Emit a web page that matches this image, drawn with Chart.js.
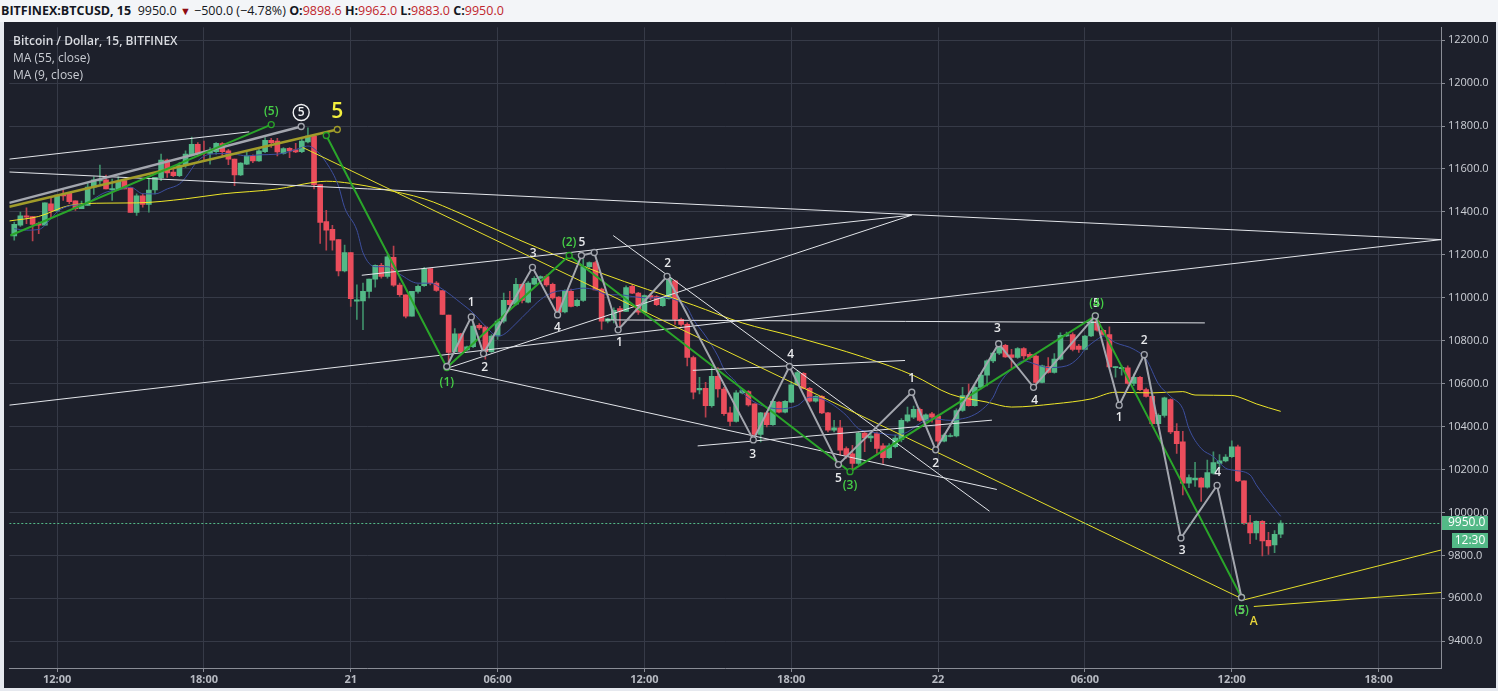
<!DOCTYPE html>
<html>
<head>
<meta charset="utf-8">
<script src="https://cdn.jsdelivr.net/npm/chart.js@4.4.1/dist/chart.umd.min.js"></script>
<style>
  html, body { margin: 0; padding: 0; width: 1498px; height: 691px; overflow: hidden; background: #e6e9ef; font-family: "Open Sans", "Noto Sans", sans-serif; }
  #hdr { position: absolute; left: 0; top: 0; width: 1498px; height: 22px; background: #f3f5f8; color: #131722; font-size: 12.5px; line-height: 22px; white-space: nowrap; padding-left: 1px; }
  #hdr b { font-weight: 700; }
  #hdr .r { color: #c0262d; }
  #hdr .tri { color: #8e0b12; font-size: 11px; }
  #wrap { position: absolute; left: 4px; top: 22px; width: 1492px; height: 666px; background: #1d202b; }
  #legend { position: absolute; left: 13px; top: 32px; color: #c9ccd3; font-size: 12px; line-height: 17px; pointer-events: none; }
  #legend .t { color: #d9dbe0; font-weight: 600; }
</style>
</head>
<body>
<div id="hdr"></div>
<div id="wrap"><canvas id="c" width="1492" height="666"></canvas></div>
<div id="legend">
  <div class="t">Bitcoin / Dollar, 15, BITFINEX</div>
  <div>MA (55, close)</div>
  <div>MA (9, close)</div>
</div>
<script>
// BTCUSD 15m candles, bar 1 = 20th 10:15 ... bar 208 = 22nd 14:00

const candleOpen = [
  11288, 11338, 11382, 11378, 11347, 11338, 11438, 11405, 11481, 11487,
  11452, 11415, 11430, 11515, 11544, 11549, 11504, 11504, 11546, 11512,
  11398, 11475, 11435, 11502, 11558, 11641, 11586, 11569, 11615, 11666,
  11715, 11678, 11672, 11681, 11718, 11684, 11646, 11572, 11623, 11661,
  11638, 11681, 11733, 11730, 11673, 11696, 11689, 11681, 11726, 11753,
  11527, 11355, 11319, 11271, 11125, 11211, 10984, 10986, 11030, 11087,
  11151, 11099, 11188, 11059, 11014, 10914, 11030, 11056, 11136, 11068,
  11034, 10920, 10749, 10832, 10757, 10772, 10872, 10863, 10749, 10822,
  10891, 10988, 10970, 11063, 10980, 11063, 11091, 11099, 11063, 11003,
  10934, 11030, 10963, 10988, 11145, 11164, 11040, 10891, 10899, 10950,
  10937, 11053, 11022, 10933, 11010, 11006, 10963, 10996, 11079, 10900,
  10876, 10722, 10571, 10578, 10498, 10634, 10575, 10464, 10424, 10557,
  10563, 10506, 10363, 10464, 10409, 10514, 10467, 10514, 10594, 10648,
  10578, 10518, 10541, 10464, 10383, 10394, 10298, 10273, 10229, 10370,
  10347, 10367, 10310, 10255, 10306, 10340, 10426, 10444, 10480, 10429,
  10460, 10449, 10332, 10354, 10356, 10475, 10545, 10498, 10583, 10640,
  10706, 10742, 10779, 10734, 10722, 10763, 10737, 10729, 10606, 10680,
  10652, 10714, 10822, 10829, 10775, 10760, 10822, 10891, 10849, 10829,
  10675, 10670, 10674, 10601, 10629, 10572, 10541, 10414, 10452, 10526,
  10378, 10329, 10136, 10152, 10160, 10118, 10183, 10229, 10240, 10260,
  10306, 10147, 9952, 9905, 9959, 9870, 9849, 9898.6
];
const candleHigh = [
  11353, 11399, 11419, 11378, 11353, 11442, 11468, 11479, 11502, 11487,
  11452, 11450, 11533, 11564, 11618, 11572, 11553, 11564, 11553, 11512,
  11484, 11484, 11553, 11561, 11669, 11646, 11599, 11630, 11684, 11749,
  11723, 11730, 11700, 11723, 11723, 11692, 11646, 11630, 11681, 11666,
  11692, 11746, 11743, 11743, 11700, 11700, 11720, 11738, 11792, 11753,
  11527, 11407, 11338, 11271, 11245, 11211, 11060, 11068, 11087, 11153,
  11160, 11199, 11241, 11068, 11014, 11030, 11060, 11142, 11137, 11076,
  11034, 10920, 10856, 10834, 10775, 10883, 10880, 10868, 10829, 10899,
  11022, 11030, 11091, 11065, 11076, 11099, 11102, 11107, 11068, 11006,
  11037, 11040, 10994, 11180, 11168, 11170, 11045, 10906, 10953, 10960,
  11056, 11060, 11025, 11014, 11022, 11010, 11003, 11102, 11083, 10906,
  10883, 10729, 10629, 10606, 10675, 10675, 10583, 10491, 10568, 10575,
  10568, 10506, 10467, 10471, 10521, 10517, 10521, 10610, 10660, 10652,
  10583, 10545, 10545, 10467, 10429, 10429, 10306, 10313, 10375, 10375,
  10375, 10375, 10321, 10321, 10360, 10437, 10491, 10495, 10486, 10460,
  10467, 10455, 10367, 10367, 10483, 10583, 10598, 10591, 10645, 10711,
  10745, 10791, 10783, 10760, 10768, 10768, 10745, 10734, 10686, 10721,
  10740, 10837, 10840, 10837, 10783, 10825, 10899, 10914, 10852, 10865,
  10680, 10683, 10683, 10645, 10634, 10580, 10545, 10460, 10537, 10529,
  10414, 10378, 10175, 10233, 10163, 10244, 10283, 10270, 10270, 10334,
  10314, 10147, 9987, 9961, 9962, 9908, 9916, 9962
];
const candleLow = [
  11268, 11333, 11345, 11265, 11299, 11338, 11368, 11405, 11453, 11438,
  11407, 11415, 11430, 11481, 11530, 11507, 11453, 11504, 11507, 11398,
  11384, 11422, 11399, 11484, 11545, 11561, 11564, 11564, 11607, 11661,
  11661, 11638, 11623, 11669, 11661, 11620, 11522, 11569, 11620, 11630,
  11635, 11676, 11700, 11661, 11669, 11653, 11676, 11676, 11722, 11507,
  11253, 11222, 11222, 11102, 11121, 10960, 10899, 10852, 10999, 11050,
  11091, 11091, 11053, 11006, 10906, 10914, 11022, 11053, 11060, 11030,
  10922, 10690, 10745, 10745, 10752, 10768, 10852, 10714, 10745, 10806,
  10883, 10953, 10966, 10976, 10976, 11060, 11088, 11053, 10994, 10922,
  10929, 10957, 10960, 10983, 11140, 11037, 10853, 10883, 10883, 10849,
  10937, 11019, 10922, 10929, 10991, 10963, 10960, 10994, 10876, 10868,
  10683, 10529, 10552, 10444, 10491, 10537, 10452, 10403, 10421, 10552,
  10495, 10333, 10329, 10398, 10406, 10464, 10464, 10511, 10591, 10575,
  10514, 10514, 10460, 10375, 10375, 10267, 10252, 10195, 10221, 10283,
  10330, 10275, 10229, 10252, 10301, 10329, 10421, 10437, 10424, 10421,
  10421, 10290, 10329, 10352, 10352, 10471, 10495, 10495, 10575, 10590,
  10698, 10735, 10722, 10675, 10717, 10714, 10714, 10583, 10603, 10649,
  10649, 10711, 10819, 10752, 10745, 10757, 10819, 10845, 10825, 10675,
  10630, 10640, 10598, 10591, 10567, 10537, 10406, 10406, 10444, 10367,
  10275, 10082, 10116, 10121, 10052, 10113, 10178, 10206, 10236, 10255,
  10144, 9944, 9855, 9875, 9798, 9805, 9813, 9883
];
const candleClose = [
  11342, 11382, 11376, 11342, 11338, 11442, 11405, 11479, 11475, 11448,
  11415, 11433, 11516, 11549, 11549, 11507, 11506, 11542, 11507, 11398,
  11475, 11435, 11502, 11561, 11641, 11582, 11569, 11618, 11669, 11715,
  11672, 11674, 11684, 11720, 11681, 11646, 11572, 11627, 11661, 11638,
  11684, 11733, 11723, 11679, 11695, 11684, 11679, 11730, 11753, 11527,
  11351, 11315, 11268, 11125, 11211, 10996, 10990, 11030, 11087, 11151,
  11099, 11191, 11059, 11014, 10914, 11030, 11053, 11136, 11068, 11034,
  10922, 10745, 10832, 10749, 10772, 10868, 10860, 10749, 10822, 10891,
  10988, 10968, 11063, 10988, 11068, 11091, 11099, 11060, 10999, 10933,
  11030, 10960, 10988, 11145, 11164, 11037, 10891, 10902, 10942, 10937,
  11048, 11022, 10933, 11010, 10999, 10968, 10999, 11091, 10899, 10876,
  10722, 10560, 10578, 10498, 10634, 10575, 10460, 10424, 10557, 10568,
  10501, 10363, 10464, 10409, 10518, 10467, 10518, 10594, 10652, 10578,
  10518, 10541, 10464, 10383, 10394, 10290, 10267, 10229, 10370, 10347,
  10356, 10298, 10255, 10310, 10347, 10429, 10455, 10480, 10429, 10455,
  10444, 10332, 10360, 10358, 10475, 10545, 10498, 10583, 10640, 10706,
  10742, 10779, 10725, 10722, 10763, 10729, 10722, 10606, 10683, 10652,
  10714, 10825, 10829, 10760, 10760, 10822, 10891, 10849, 10829, 10678,
  10678, 10676, 10601, 10629, 10572, 10541, 10414, 10452, 10534, 10375,
  10321, 10136, 10163, 10160, 10118, 10186, 10232, 10241, 10258, 10306,
  10147, 9952, 9905, 9959, 9867, 9844, 9898, 9950
];

// moving averages (bar index, value)
const ma55Bars = [0.2, 5, 10, 16, 21, 29, 35, 44, 50, 52, 56, 61, 68, 74, 83, 97, 112, 120, 128, 140,
  148, 154, 160, 164, 171, 177, 181, 187, 192, 194, 200, 202, 204, 208];
const ma55Vals = [11358, 11379, 11430, 11441, 11442, 11461, 11484, 11507, 11538, 11543, 11533, 11507, 11461, 11392, 11276, 11114, 10966, 10883, 10823, 10722,
  10638, 10551, 10514, 10491, 10506, 10529, 10560, 10557, 10563, 10547, 10545, 10529, 10506, 10471];

const ma9Bars = [1, 3, 5, 7, 8, 10, 13, 14, 16, 18, 20, 22, 24, 26, 28, 29, 31, 33, 35, 37,
  39, 41, 44, 46, 48, 49, 50, 52, 54, 55, 57, 58, 60, 62, 64, 67, 69, 71, 74, 76,
  78, 80, 81, 83, 85, 87, 89, 92, 94, 96, 98, 100, 102, 105, 107, 109, 111, 112, 114, 116,
  117, 119, 120, 122, 124, 126, 129, 131, 133, 135, 137, 139, 141, 143, 145, 147, 149, 151, 154, 156,
  157, 159, 161, 162, 164, 166, 168, 170, 173, 175, 176, 178, 179, 181, 184, 186, 188, 190, 192, 193,
  195, 197, 199, 200, 203, 204, 206, 208];
const ma9Vals = [11322, 11315, 11318, 11368, 11400, 11428, 11440, 11461, 11492, 11502, 11515, 11485, 11484, 11507, 11530, 11560, 11638, 11669, 11672, 11669,
  11661, 11666, 11669, 11681, 11700, 11707, 11695, 11630, 11520, 11420, 11315, 11210, 11145, 11145, 11110, 11068, 11068, 11040, 10976, 10929,
  10868, 10822, 10829, 10880, 10937, 10991, 11025, 11037, 11045, 11037, 11014, 11014, 11006, 10999, 11003, 10991, 10953, 10899, 10822, 10729,
  10668, 10606, 10560, 10514, 10491, 10483, 10498, 10537, 10529, 10498, 10452, 10390, 10375, 10367, 10360, 10375, 10414, 10437, 10429, 10437,
  10444, 10475, 10537, 10598, 10668, 10706, 10690, 10675, 10683, 10722, 10760, 10806, 10822, 10791, 10760, 10714, 10600, 10540, 10483, 10391,
  10298, 10260, 10206, 10198, 10175, 10129, 10052, 9982];

// axis ticks
const timeTickBars = [8, 32, 56, 80, 104, 128, 152, 176, 200, 224];
const timeTickLabels = ['12:00', '18:00', '21', '06:00', '12:00', '18:00', '22', '06:00', '12:00', '18:00'];
const priceTicks = [9400, 9600, 9800, 10000, 10200, 10400, 10600, 10800, 11000, 11200, 11400, 11600, 11800, 12000, 12200];

// drawings (bar index / price)
const whiteLineBars = [[0.19, 39.4], [0.19, 234.2], [57.8, 147.7], [71.7, 147.7], [0.19, 234.2],
  [71.7, 161.6], [98.9, 160.4], [112.7, 160.8], [111.9, 146.6], [97.7, 195.6]];
const whiteLinePrices = [[11646, 11773], [11586, 11271], [11105, 11385], [10671, 11385], [10500, 11271],
  [10671, 10107], [11290, 10006], [10310, 10430], [10662, 10708], [10897, 10883]];

const greyTopBars = [0.19, 47.9];
const greyTopPrices = [11442, 11798];
const greyWaveBars = [71.7, 75.7, 77.7, 85.7, 89.8, 93.7, 95.8, 99.7, 107.7, 121.8, 127.7,
  135.7, 147.7, 151.6, 161.9, 167.6, 177.7, 181.6, 185.7, 191.7, 197.6, 201.6];
const greyWavePrices = [10680, 10911, 10740, 11142, 10920, 11197, 11211, 10851, 11100, 10338, 10680,
  10223, 10560, 10292, 10786, 10583, 10916, 10500, 10735, 9881, 10126, 9604];

const greenTopBars = [0.35, 43];
const greenTopPrices = [11290, 11807];
const greenWaveBars = [52, 71.7, 91.7, 137.6, 177.7, 201.6];
const greenWavePrices = [11756, 10675, 11197, 10190, 10916, 9604];

const oliveBars = [0.19, 53.8];
const olivePrices = [11424, 11784];

const yellowLineBars = [[48.1, 201.6], [201.6, 234.2], [203.6, 234.2]];
const yellowLinePrices = [[11701, 9599], [9590, 9825], [9562, 9627]];

// wave labels
const greenLabelText = ['(5)', '(1)', '(2)', '(3)', '(4)', '(5)'];
const greenLabelBars = [43, 71.7, 91.7, 137.6, 177.9, 201.6];
const greenLabelPrices = [11867, 10606, 11257, 10126, 10971, 9543];

const whiteLabelText = ['1', '2', '3', '4', '5', '1', '2', '3', '4', '5', '1', '2', '3', '4', '5', '1', '2', '3', '4', '5'];
const whiteLabelBars = [75.7, 77.9, 85.8, 89.8, 93.8, 99.9, 107.8, 121.7, 127.9, 135.7,
  147.7, 151.6, 161.7, 167.8, 177.9, 181.6, 185.7, 191.9, 197.7, 201.6];
const whiteLabelPrices = [10976, 10675, 11207, 10860, 11257, 10791, 11161, 10269, 10735, 10158,
  10625, 10227, 10856, 10523, 10971, 10440, 10800, 9821, 10186, 9543];

const circledLabel = { text: '5', bar: 47.9, price: 11863 };
const bigYellowLabel = { text: '5', bar: 53.8, price: 11867 };
const smallYellowLabel = { text: 'A', bar: 203.6, price: 9493 };

// header numbers
const symbolText = 'BITFINEX:BTCUSD, 15';
const changeText = '\u2212500.0 (\u22124.78%)';
const countdownText = '12:30';

const BG = '#1d202b';
const UP = '#53b987';
const DOWN = '#eb4d5c';
const GRID = '#363a47';
const AXIS = '#8a8d96';

const n = candleClose.length;
const lastPrice = candleClose[n - 1];

document.getElementById('hdr').innerHTML =
  '<b>' + symbolText + '</b>&nbsp; ' + lastPrice.toFixed(1) + ' <span class="tri">\u25BC</span> ' + changeText +
  ' <b>O:</b><span class="r">' + candleOpen[n - 1].toFixed(1) + '</span>' +
  ' <b>H:</b><span class="r">' + candleHigh[n - 1].toFixed(1) + '</span>' +
  ' <b>L:</b><span class="r">' + candleLow[n - 1].toFixed(1) + '</span>' +
  ' <b>C:</b><span class="r">' + candleClose[n - 1].toFixed(1) + '</span>';

const upAt = i => candleClose[i] >= candleOpen[i];
const bodyData = candleClose.map((c, i) => ({ x: i + 1, y: [candleOpen[i], c] }));
const wickData = candleClose.map((c, i) => ({ x: i + 1, y: [candleLow[i], candleHigh[i]] }));

const pts = (bars, prices) => bars.map((b, i) => ({ x: b, y: prices[i] }));

function lineDs(data, color, width, radius, order) {
  return {
    type: 'line',
    data,
    borderColor: color,
    borderWidth: width,
    pointRadius: radius,
    pointBackgroundColor: BG,
    pointBorderColor: color,
    pointBorderWidth: 1.3,
    tension: 0,
    order: order
  };
}
const lastOnly = ctx => ctx.dataIndex === 1 ? 3 : 0;

const datasets = [
  {
    type: 'bar', data: wickData, barThickness: 1, grouped: false, order: 31,
    backgroundColor: candleClose.map((c, i) => upAt(i) ? '#3f8f6a' : '#b8404d'),
    borderWidth: 0, minBarLength: 1
  },
  {
    type: 'bar', data: bodyData, barThickness: 5, grouped: false, order: 30,
    backgroundColor: candleClose.map((c, i) => upAt(i) ? UP : DOWN),
    borderWidth: 0, minBarLength: 1
  },
  { type: 'line', data: pts(ma55Bars, ma55Vals), borderColor: '#eee629', borderWidth: 1, pointRadius: 0, tension: 0.4, cubicInterpolationMode: 'monotone', order: 20 },
  { type: 'line', data: pts(ma9Bars, ma9Vals), borderColor: '#3d4f9f', borderWidth: 1, pointRadius: 0, tension: 0.4, cubicInterpolationMode: 'monotone', order: 19 }
];

whiteLineBars.forEach((b, i) => datasets.push(lineDs(pts(b, whiteLinePrices[i]), '#e3e5ea', 1, 0, 10)));
yellowLineBars.forEach((b, i) => datasets.push(lineDs(pts(b, yellowLinePrices[i]), '#e6df2a', 1, 0, 9)));
datasets.push(lineDs(pts(oliveBars, olivePrices), '#a19c2a', 2.5, lastOnly, 8));
datasets.push(lineDs(pts(greyTopBars, greyTopPrices), '#a3a6ae', 2.5, lastOnly, 7));
datasets.push(lineDs(pts(greenTopBars, greenTopPrices), '#2aa52a', 2, lastOnly, 6));
datasets.push(lineDs(pts(greenWaveBars, greenWavePrices), '#2aa52a', 2, 3, 5));
datasets.push(lineDs(pts(greyWaveBars, greyWavePrices), '#a3a6ae', 2, 3, 4));

const overlay = {
  id: 'overlay',
  afterDatasetsDraw(chart) {
    const { ctx, chartArea, scales: { x, y } } = chart;
    ctx.save();
    ctx.beginPath();
    ctx.rect(chartArea.left, chartArea.top, chartArea.right - chartArea.left, chartArea.bottom - chartArea.top);
    ctx.clip();

    // last price line
    const py = Math.round(y.getPixelForValue(lastPrice)) + 0.5;
    ctx.strokeStyle = UP;
    ctx.lineWidth = 1;
    ctx.setLineDash([2, 2]);
    ctx.beginPath();
    ctx.moveTo(chartArea.left, py);
    ctx.lineTo(chartArea.right, py);
    ctx.stroke();
    ctx.setLineDash([]);

    ctx.textAlign = 'center';
    ctx.textBaseline = 'middle';

    ctx.font = '600 12px "Open Sans", sans-serif';
    ctx.fillStyle = '#e8e9ec';
    whiteLabelText.forEach((t, i) => {
      ctx.fillText(t, x.getPixelForValue(whiteLabelBars[i]), y.getPixelForValue(whiteLabelPrices[i]));
    });
    ctx.fillStyle = '#46d046';
    greenLabelText.forEach((t, i) => {
      ctx.fillText(t, x.getPixelForValue(greenLabelBars[i]), y.getPixelForValue(greenLabelPrices[i]));
    });

    // circled 5
    const cx = x.getPixelForValue(circledLabel.bar);
    const cy = y.getPixelForValue(circledLabel.price);
    ctx.strokeStyle = '#f0f1f3';
    ctx.lineWidth = 1.4;
    ctx.beginPath();
    ctx.arc(cx, cy, 8, 0, Math.PI * 2);
    ctx.stroke();
    ctx.fillStyle = '#f0f1f3';
    ctx.fillText(circledLabel.text, cx, cy + 0.5);

    ctx.fillStyle = '#f3ef3e';
    ctx.font = '600 21px "Open Sans", sans-serif';
    ctx.fillText(bigYellowLabel.text, x.getPixelForValue(bigYellowLabel.bar), y.getPixelForValue(bigYellowLabel.price));
    ctx.font = '600 12px "Open Sans", sans-serif';
    ctx.fillStyle = '#e8d53a';
    ctx.fillText(smallYellowLabel.text, x.getPixelForValue(smallYellowLabel.bar), y.getPixelForValue(smallYellowLabel.price));
    ctx.restore();
  },
  afterDraw(chart) {
    const { ctx, chartArea, scales: { y } } = chart;
    const py = Math.round(y.getPixelForValue(lastPrice));
    ctx.save();
    ctx.fillStyle = UP;
    ctx.fillRect(chartArea.right + 1, py - 7, 46, 14);
    ctx.fillRect(chartArea.right + 11, py + 10, 36, 15);
    ctx.fillStyle = '#ffffff';
    ctx.font = '12px "Open Sans", sans-serif';
    ctx.textBaseline = 'middle';
    ctx.textAlign = 'left';
    ctx.fillText(lastPrice.toFixed(1), chartArea.right + 7, py);
    ctx.textAlign = 'center';
    ctx.fillText(countdownText, chartArea.right + 29, py + 17.5);
    ctx.restore();
  }
};

Chart.defaults.font.family = '"Open Sans", sans-serif';

new Chart(document.getElementById('c'), {
  type: 'bar',
  data: { datasets },
  options: {
    responsive: false,
    devicePixelRatio: 1,
    animation: false,
    events: [],
    layout: { padding: 0 },
    plugins: { legend: { display: false }, tooltip: { enabled: false } },
    scales: {
      x: {
        type: 'linear',
        position: 'bottom',
        min: 0.19,
        max: 234.2,
        offset: false,
        grid: { color: GRID, offset: false, tickLength: 4, tickColor: AXIS },
        border: { color: AXIS },
        ticks: {
          color: '#b7bac2',
          font: { size: 11, weight: 'bold' },
          padding: 1,
          maxRotation: 0,
          autoSkip: false,
          callback: v => timeTickLabels[timeTickBars.indexOf(v)]
        },
        afterBuildTicks: s => { s.ticks = timeTickBars.map(v => ({ value: v })); },
        afterFit: s => { s.height = 20; s.paddingLeft = 0; s.paddingRight = 0; }
      },
      y: {
        type: 'linear',
        position: 'right',
        min: 9275.5,
        max: 12260,
        grid: { color: GRID, tickLength: 4, tickColor: AXIS },
        border: { color: AXIS },
        ticks: {
          color: '#cdd0d7',
          font: { size: 11 },
          padding: 3,
          callback: v => v.toFixed(1)
        },
        afterBuildTicks: s => { s.ticks = priceTicks.map(v => ({ value: v })); },
        afterFit: s => { s.width = 55; s.paddingTop = 0; s.paddingBottom = 0; }
      }
    }
  },
  plugins: [overlay]
});
</script>
</body>
</html>
